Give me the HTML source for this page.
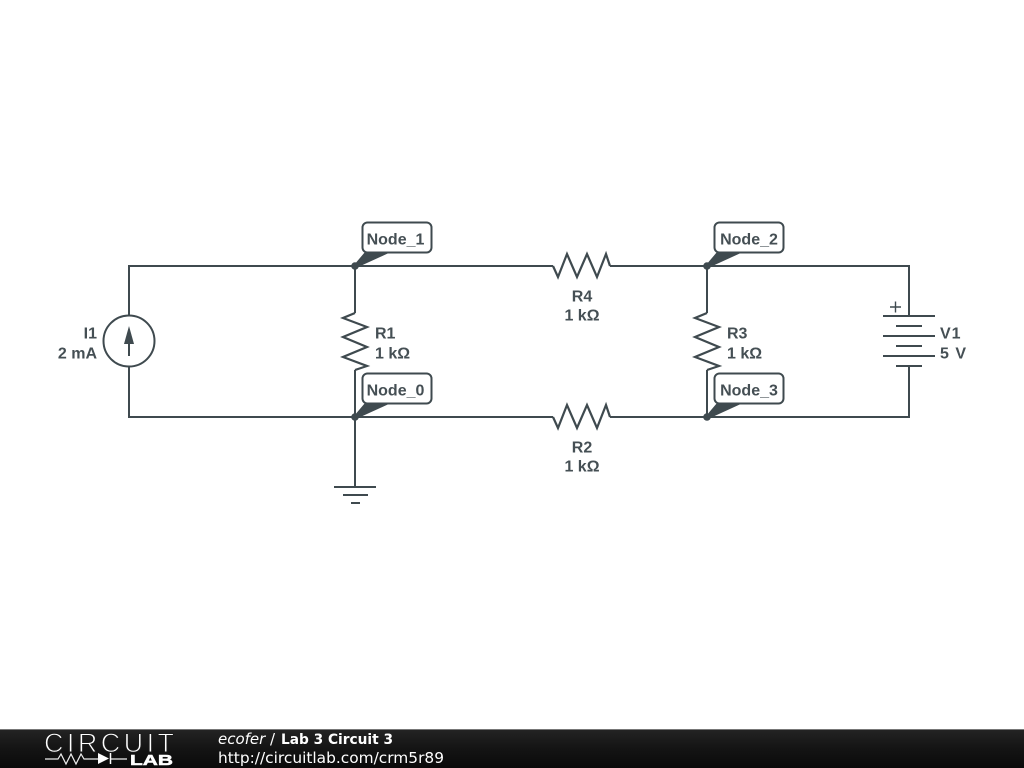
<!DOCTYPE html>
<html><head><meta charset="utf-8"><style>
html,body{margin:0;padding:0;background:#fff;width:1024px;height:768px;overflow:hidden}
svg{display:block}
</style></head><body>
<svg width="1024" height="768" viewBox="0 0 1024 768" xmlns="http://www.w3.org/2000/svg">
<defs>
<linearGradient id="ft" x1="0" y1="0" x2="0" y2="1"><stop offset="0" stop-color="#242424"/><stop offset="0.5" stop-color="#141414"/><stop offset="1" stop-color="#0a0a0a"/></linearGradient>
<g id="callout">
<path d="M-1 -1 L10 -14 L36 -14 L1 2 Z" fill="#3f4a4f"/>
<rect x="7.500" y="-43.500" width="69" height="30" rx="5" ry="5" fill="#fff" stroke="#3f4a4f" stroke-width="2"/>
<circle cx="0" cy="0" r="3.800" fill="#3f4a4f"/>
</g>
</defs>
<rect width="1024" height="768" fill="#fff"/>
<g fill="none" stroke="#3f4a4f" stroke-width="2">
<path d="M129 316V266H553M610 266H909V316"/>
<path d="M129 367V417H553M610 417H909V366"/>
<path d="M355 266V313M355 370V487"/>
<path d="M707 266V313M707 370V417"/>
<path d="M553 266L558 277L567 254L577 277L587 254L597 277L606 254L610 266" stroke-width="2.200"/>
<path d="M553 417L558 428L567 405L577 428L587 405L597 428L606 405L610 417" stroke-width="2.200"/>
<path d="M355 313L343 318L367 327L343 337L367 347L343 357L367 366L355 370" stroke-width="2.200"/>
<path d="M707 313L695 318L719 327L695 337L719 347L695 357L719 366L707 370" stroke-width="2.200"/>
<circle cx="129" cy="341" r="25.500"/>
<path d="M129 356V335"/>
<path d="M883 316H935M896 326H922M883 336H935M896 346H922M883 356H935M896 366H922"/>
<path d="M890 307H901M895.500 301.500V312.500" stroke-width="1.400"/>
<path d="M334 487H376M343 495H368M351 503H360"/>
</g>
<path d="M129 326L134 344H124Z" fill="#3f4a4f"/>
<use href="#callout" x="355" y="266"/>
<use href="#callout" x="707" y="266"/>
<use href="#callout" x="355" y="417"/>
<use href="#callout" x="707" y="417"/>
<g font-family="'Liberation Sans',sans-serif" font-size="16" font-weight="bold" fill="#454f54">
<text x="395.500" y="244.500" text-anchor="middle">Node_1</text>
<text x="749" y="244.500" text-anchor="middle">Node_2</text>
<text x="395.500" y="395.500" text-anchor="middle">Node_0</text>
<text x="749" y="395.500" text-anchor="middle">Node_3</text>
<text x="582" y="301.500" text-anchor="middle">R4</text>
<text x="582" y="320.500" text-anchor="middle">1 kΩ</text>
<text x="582" y="452.500" text-anchor="middle">R2</text>
<text x="582" y="471.500" text-anchor="middle">1 kΩ</text>
<text x="375" y="338.500">R1</text>
<text x="375" y="358.500">1 kΩ</text>
<text x="727" y="338.500">R3</text>
<text x="727" y="358.500">1 kΩ</text>
<text x="940" y="338.500" letter-spacing="1">V1</text>
<text x="940" y="358.500" word-spacing="2">5 V</text>
<text x="97" y="338.500" text-anchor="end">I1</text>
<text x="97" y="358.500" text-anchor="end">2 mA</text>
</g>
<rect x="0" y="729" width="1024" height="39" fill="url(#ft)"/>
<rect x="0" y="729" width="1024" height="1" fill="#777"/>
<text x="44" y="752" font-family="'Liberation Sans',sans-serif" font-size="27" textLength="130" lengthAdjust="spacing" fill="#fff" stroke="#1c1c1c" stroke-width="1">CIRCUIT</text>
<path d="M45 759H58L61 754L66 764L71 754L76 764L81 754L84 759H98M110 759H127" fill="none" stroke="#eee" stroke-width="1.200"/>
<path d="M98 753L109 758.500L98 764Z" fill="#fff"/>
<path d="M110.500 753V764" stroke="#fff" stroke-width="1.500"/>
<text x="130" y="765" font-family="'Liberation Sans',sans-serif" font-size="15" font-weight="bold" fill="#fff" stroke="#fff" stroke-width="0.500" textLength="43" lengthAdjust="spacingAndGlyphs">LAB</text>
<g font-family="'DejaVu Sans',sans-serif" fill="#fff">
<text x="218" y="744" font-size="15" font-style="italic">ecofer</text>
<text x="270" y="744" font-size="15">/</text>
<text x="281" y="744" font-size="14" font-weight="bold" textLength="112" lengthAdjust="spacingAndGlyphs">Lab 3 Circuit 3</text>
<text x="218" y="763" font-size="15" textLength="226" lengthAdjust="spacingAndGlyphs">http://circuitlab.com/crm5r89</text>
</g>
</svg>
</body></html>
